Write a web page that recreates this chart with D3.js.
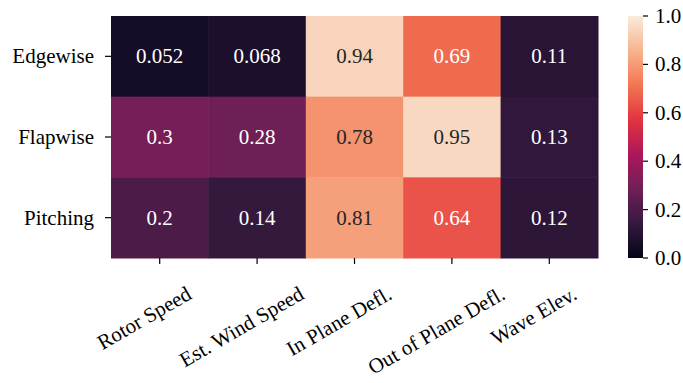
<!DOCTYPE html>
<html>
<head>
<meta charset="utf-8">
<script src="https://cdn.jsdelivr.net/npm/d3@7"></script>
</head>
<body style="margin:0">
<svg id="chart" width="683" height="383" style="display:block"></svg>
<script>
// Correlation of each response with each input signal
const rowLabels = ["Edgewise", "Flapwise", "Pitching"];
const colLabels = ["Rotor Speed", "Est. Wind Speed", "In Plane Defl.", "Out of Plane Defl.", "Wave Elev."];
const edgewise = [0.052, 0.068, 0.94, 0.69, 0.11];
const flapwise = [0.3, 0.28, 0.78, 0.95, 0.13];
const pitching = [0.2, 0.14, 0.81, 0.64, 0.12];
const colorbarTicks = [0.0, 0.2, 0.4, 0.6, 0.8, 1.0];

// "rocket" colormap control points
const rocketStops = [0, 1 / 7, 2 / 7, 3 / 7, 4 / 7, 5 / 7, 6 / 7, 1];
const rocketColors = ["#03051a", "#35193e", "#701f57", "#ad1759", "#e13342", "#f37651", "#f6b48f", "#faebdd"];

const FONT = "'Liberation Serif'";
const FONT_SIZE = 21;

const matrix = [edgewise, flapwise, pitching];
const cells = [];
matrix.forEach((vals, r) => vals.forEach((v, c) => cells.push({ row: rowLabels[r], col: colLabels[c], value: v })));

const svg = d3.select("#chart");
const m = { left: 111, right: 598, top: 16, bottom: 258 };

const x = d3.scaleBand().domain(colLabels).range([m.left, m.right]).padding(0);
const y = d3.scaleBand().domain(rowLabels).range([m.top, m.bottom]).padding(0);
const color = d3.scaleLinear().domain(rocketStops).range(rocketColors).interpolate(d3.interpolateRgb).clamp(true);
const fmt = d3.format(".2~g");

function serif(sel) {
  sel.style("font-family", FONT).attr("font-size", FONT_SIZE);
}

// cells
svg.append("g").selectAll("rect").data(cells).join("rect")
  .attr("x", d => x(d.col))
  .attr("y", d => y(d.row))
  .attr("width", x.bandwidth() + 0.5)
  .attr("height", y.bandwidth() + 0.5)
  .attr("fill", d => color(d.value));

// annotations: dark text on light cells, white on dark cells
function textColor(v) {
  const c = d3.rgb(color(v));
  const lin = k => { k /= 255; return k <= 0.03928 ? k / 12.92 : Math.pow((k + 0.055) / 1.055, 2.4); };
  const lum = 0.2126 * lin(c.r) + 0.7152 * lin(c.g) + 0.0722 * lin(c.b);
  return lum > 0.408 ? "#262626" : "#ffffff";
}
cells.forEach(d => {
  svg.append("text")
    .attr("x", x(d.col) + x.bandwidth() / 2)
    .attr("y", y(d.row) + y.bandwidth() / 2 + 7)
    .attr("text-anchor", "middle")
    .attr("fill", textColor(d.value))
    .call(serif)
    .text(fmt(d.value));
});

// tick marks and labels
const tickLen = 6;
// rows
rowLabels.forEach(r => {
  const cyPos = y(r) + y.bandwidth() / 2;
  svg.append("line").attr("x1", m.left - tickLen).attr("x2", m.left)
    .attr("y1", cyPos).attr("y2", cyPos).attr("stroke", "#000").attr("stroke-width", 1.2);
  svg.append("text").attr("x", m.left - tickLen - 11).attr("y", cyPos + 7)
    .attr("text-anchor", "end").attr("fill", "#000").call(serif).text(r);
});
// columns, rotated labels
colLabels.forEach(c => {
  const cx = x(c) + x.bandwidth() / 2;
  svg.append("line").attr("x1", cx).attr("x2", cx)
    .attr("y1", m.bottom).attr("y2", m.bottom + tickLen).attr("stroke", "#000").attr("stroke-width", 1.2);
  const t = svg.append("text").attr("text-anchor", "middle").attr("fill", "#000").call(serif).text(c);
  const len = t.node().getComputedTextLength();
  t.attr("transform", `translate(${cx - 12},${m.bottom + 40 + len / 4}) rotate(-30)`);
});

// colorbar
const cb = { x: 628, w: 15 };
const cy = d3.scaleLinear().domain([0, 1]).range([m.bottom, m.top]);
const defs = svg.append("defs");
const grad = defs.append("linearGradient").attr("id", "rocket")
  .attr("x1", 0).attr("y1", 1).attr("x2", 0).attr("y2", 0);
grad.selectAll("stop").data(d3.range(0, 1.0001, 0.02)).join("stop")
  .attr("offset", d => d)
  .attr("stop-color", d => color(d));
svg.append("rect")
  .attr("x", cb.x).attr("y", cy(1))
  .attr("width", cb.w).attr("height", cy(0) - cy(1))
  .attr("fill", "url(#rocket)");
colorbarTicks.forEach(v => {
  const ty = cy(v);
  svg.append("line").attr("x1", cb.x + cb.w).attr("x2", cb.x + cb.w + 5)
    .attr("y1", ty).attr("y2", ty).attr("stroke", "#000").attr("stroke-width", 1.2);
  svg.append("text").attr("x", cb.x + cb.w + 12).attr("y", ty + 7)
    .attr("fill", "#000").call(serif).text(d3.format(".1f")(v));
});
</script>
</body>
</html>
